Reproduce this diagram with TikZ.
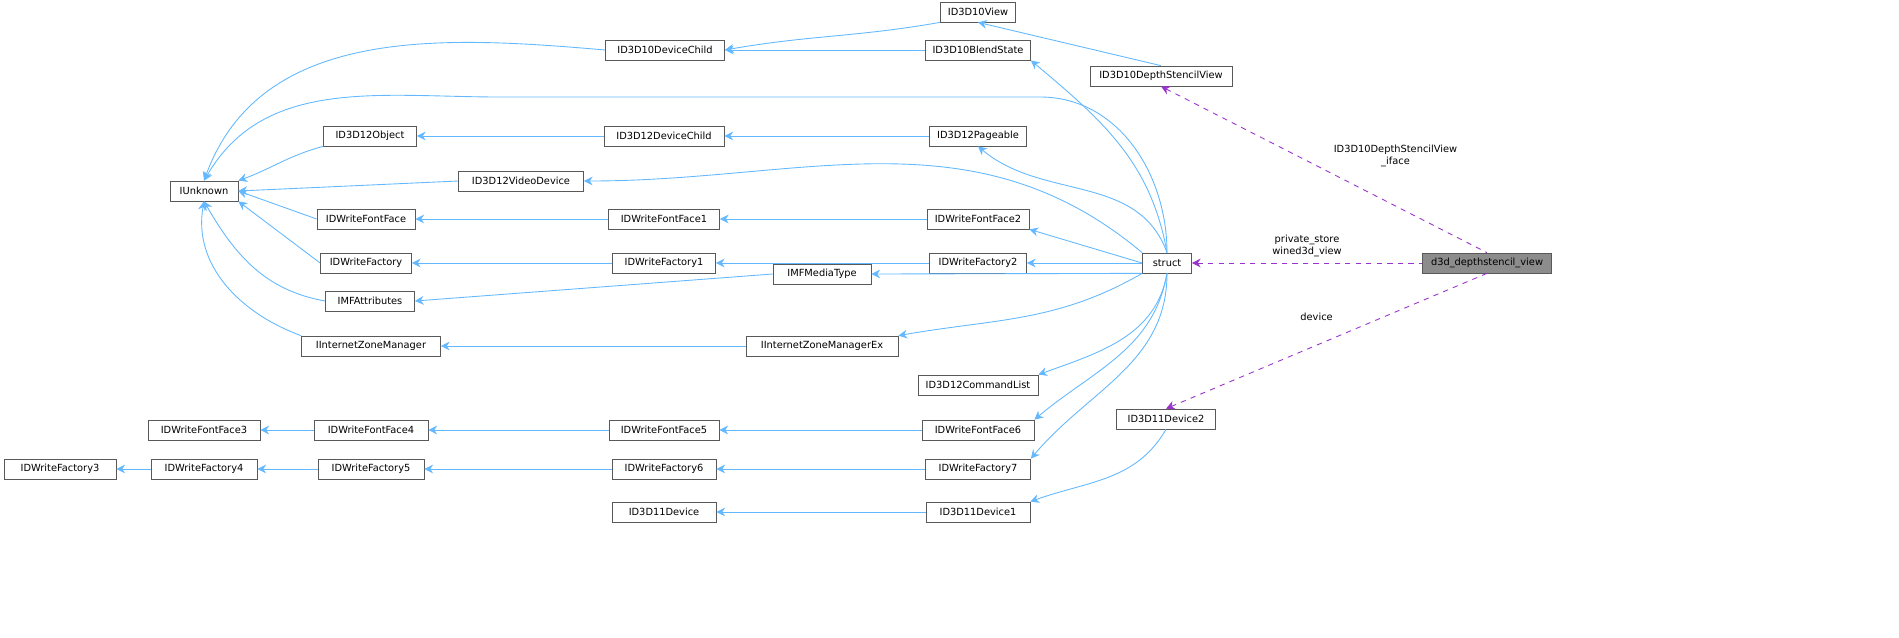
\documentclass[tikz,border=0pt]{standalone}
\usepackage{fontspec}
\setmainfont{DejaVu Sans}
\usetikzlibrary{arrows.meta, positioning}
\definecolor{inhblue}{HTML}{63B8FF}
\definecolor{usepurple}{HTML}{9A32CD}
\begin{document}
\begin{tikzpicture}[
    x=0.02cm, y=-0.02cm,
    cls/.style={rectangle, draw=black!65, fill=white, inner sep=0pt, minimum height=0.4cm,
        font=\fontsize{5.6}{6.5}\selectfont},
    w/.style={minimum width=#1*0.02cm},
    inh/.style={{Stealth[length=5pt,width=5pt]}-, draw=inhblue, line width=0.5pt},
    use/.style={{Stealth[length=5pt,width=5pt]}-, draw=usepurple, dashed, line width=0.5pt},
    lbl/.style={font=\fontsize{5.6}{6.5}\selectfont, align=center}
]
\useasboundingbox (0,0) rectangle (1899,637);

% base classes and interfaces
\node[cls, w=75] (view10) at (978,12) {ID3D10View};
\node[cls, w=119] (child10) at (665,50) {ID3D10DeviceChild};
\node[cls, w=105] (blend10) at (978,50) {ID3D10BlendState};
\node[cls, w=142] (dsv10) at (1161,76) {ID3D10DepthStencilView};
\node[cls, w=93] (obj12) at (370,136) {ID3D12Object};
\node[cls, w=120] (child12) at (664,136) {ID3D12DeviceChild};
\node[cls, w=97] (page12) at (978,136) {ID3D12Pageable};
\node[cls, w=68] (unk) at (204,191) {IUnknown};
\node[cls, w=125] (video12) at (521,181) {ID3D12VideoDevice};
\node[cls, w=98] (ff) at (366,219) {IDWriteFontFace};
\node[cls, w=111] (ff1) at (664,219) {IDWriteFontFace1};
\node[cls, w=102] (ff2) at (978,219) {IDWriteFontFace2};
\node[cls, w=91] (fa) at (366,263) {IDWriteFactory};
\node[cls, w=103] (fa1) at (664,263) {IDWriteFactory1};
\node[cls, w=97] (fa2) at (978,263) {IDWriteFactory2};
\node[cls, w=49] (struct) at (1167,263) {struct};
\node[cls, w=129, fill=black!45] (dsv) at (1487,263) {d3d\_depthstencil\_view};
\node[cls, w=89] (mfattr) at (370,301) {IMFAttributes};
\node[cls, w=98] (mftype) at (822,274) {IMFMediaType};
\node[cls, w=139] (izm) at (371,346) {IInternetZoneManager};
\node[cls, w=152] (izmex) at (822,346) {IInternetZoneManagerEx};
\node[cls, w=120] (cmd12) at (978,385) {ID3D12CommandList};
\node[cls, w=112] (ff3) at (204,430) {IDWriteFontFace3};
\node[cls, w=114] (ff4) at (371,430) {IDWriteFontFace4};
\node[cls, w=110] (ff5) at (664,430) {IDWriteFontFace5};
\node[cls, w=112] (ff6) at (978,430) {IDWriteFontFace6};
\node[cls, w=99] (dev112) at (1166,419) {ID3D11Device2};
\node[cls, w=112] (fa3) at (60,469) {IDWriteFactory3};
\node[cls, w=106] (fa4) at (204,469) {IDWriteFactory4};
\node[cls, w=106] (fa5) at (371,469) {IDWriteFactory5};
\node[cls, w=104] (fa6) at (664,469) {IDWriteFactory6};
\node[cls, w=105] (fa7) at (978,469) {IDWriteFactory7};
\node[cls, w=104] (dev11) at (664,512) {ID3D11Device};
\node[cls, w=104] (dev111) at (978,512) {ID3D11Device1};

% inheritance
\draw[inh] (unk.north) to[out=70,in=175] (child10.west);
\draw[inh] (unk.north east) to[out=20,in=195] (obj12.south west);
\draw[inh] (unk.east) -- (video12.west);
\draw[inh] (unk.east) -- (ff.west);
\draw[inh] (unk.south east) -- (fa.west);
\draw[inh] (unk.south) to[out=-60,in=170] (mfattr.west);
\draw[inh] (unk.south) to[out=-100,in=160] (izm.north west);
\draw[inh] (unk.north) to[out=60,in=180] (500,97) -- (1040,97) to[out=0,in=90] (struct.north);
\draw[inh] (child10.east) to[out=10,in=190] (view10.south west);
\draw[inh] (child10.east) -- (blend10.west);
\draw[inh] (view10.south) -- (dsv10.north);
\draw[inh] (blend10.south east) to[out=-40,in=100] (struct.north);
\draw[inh] (obj12.east) -- (child12.west);
\draw[inh] (child12.east) -- (page12.west);
\draw[inh] (page12.south) to[out=-40,in=110] (struct.north);
\draw[inh] (video12.east) to[out=0,in=140] (struct.north west);
\draw[inh] (ff.east) -- (ff1.west);
\draw[inh] (ff1.east) -- (ff2.west);
\draw[inh] (ff2.south east) -- (struct.west);
\draw[inh] (fa.east) -- (fa1.west);
\draw[inh] (fa1.east) -- (fa2.west);
\draw[inh] (fa2.east) -- (struct.west);
\draw[inh] (mfattr.east) -- (mftype.west);
\draw[inh] (mftype.east) -- (struct.south west);
\draw[inh] (izm.east) -- (izmex.west);
\draw[inh] (izmex.north east) to[out=10,in=-150] (struct.south west);
\draw[inh] (cmd12.north east) to[out=20,in=-100] (struct.south);
\draw[inh] (ff3.east) -- (ff4.west);
\draw[inh] (ff4.east) -- (ff5.west);
\draw[inh] (ff5.east) -- (ff6.west);
\draw[inh] (ff6.north east) to[out=40,in=-100] (struct.south);
\draw[inh] (fa3.east) -- (fa4.west);
\draw[inh] (fa4.east) -- (fa5.west);
\draw[inh] (fa5.east) -- (fa6.west);
\draw[inh] (fa6.east) -- (fa7.west);
\draw[inh] (fa7.north east) to[out=50,in=-90] (struct.south);
\draw[inh] (dev11.east) -- (dev111.west);
\draw[inh] (dev111.north east) to[out=20,in=-120] (dev112.south);

% members
\draw[use] (dsv10.south) -- (dsv.north) node[lbl, pos=0.5, above right=-2pt and 2pt] {ID3D10DepthStencilView\\\_iface};
\draw[use] (struct.east) -- (dsv.west) node[lbl, midway, above=0pt] {private\_store\\wined3d\_view};
\draw[use] (dev112.north) -- (dsv.south) node[lbl, pos=0.55, above left=4pt and 2pt] {device};
\end{tikzpicture}
\end{document}
